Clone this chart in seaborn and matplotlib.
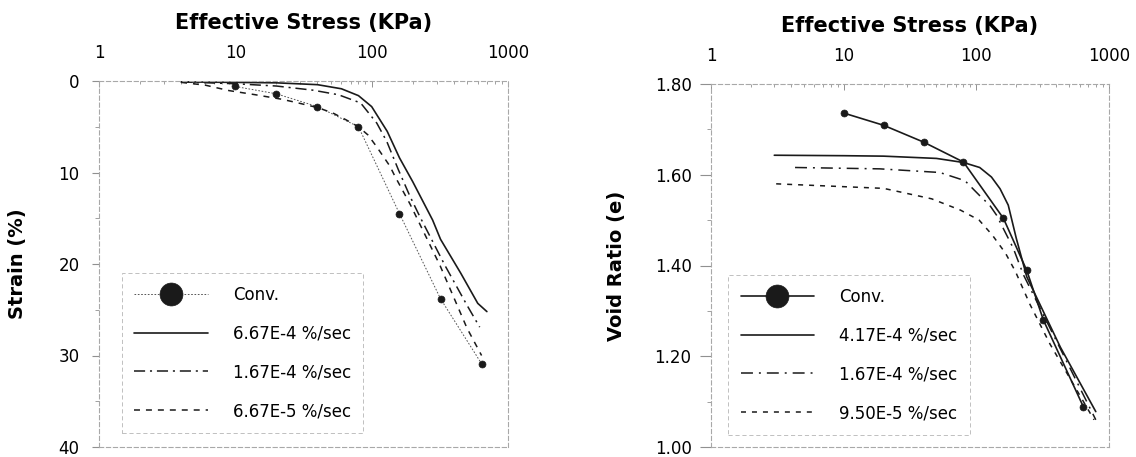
import matplotlib
matplotlib.use("Agg")
import matplotlib.pyplot as plt
import seaborn as sns
import numpy as np
import pandas as pd
from matplotlib.ticker import FixedLocator, FixedFormatter, LogLocator, NullFormatter

# ---------------- data ----------------
stress_ticks = [1, 10, 100, 1000]
stress_tick_labels = ["1", "10", "100", "1000"]

strain_ticks = [0, 10, 20, 30, 40]
strain_tick_labels = ["0", "10", "20", "30", "40"]
void_ticks = [1.0, 1.2, 1.4, 1.6, 1.8]
void_tick_labels = ["1.00", "1.20", "1.40", "1.60", "1.80"]

# left panel: strain (%)
left_conv_x = [10, 20, 40, 80, 160, 320, 640]
left_conv_y = [0.6, 1.4, 2.8, 5.0, 14.5, 23.8, 30.9]
left_fast_x = [4, 10, 20, 40, 60, 80, 100, 130, 160, 200, 280, 320, 450, 600, 700]
left_fast_y = [0.1, 0.15, 0.2, 0.4, 0.85, 1.6, 2.8, 5.5, 8.4, 11.0, 15.2, 17.3, 21.0, 24.3, 25.2]
left_mid_x = [4, 10, 20, 37, 57, 83, 109, 129, 157, 191, 227, 346, 500, 620]
left_mid_y = [0.1, 0.3, 0.55, 1.0, 1.5, 2.4, 4.6, 6.6, 9.7, 12.6, 14.9, 20.2, 24.5, 26.9]
left_slow_x = [4, 6, 9, 14, 22, 28, 40, 52, 65, 80, 94, 109, 136, 148, 192, 318, 500, 640]
left_slow_y = [0.15, 0.45, 1.05, 1.5, 2.0, 2.35, 2.9, 3.5, 4.25, 5.0, 5.9, 7.2, 9.3, 10.4, 13.5, 20.2, 27.0, 30.0]
left_labels = ["Conv.", "6.67E-4 %/sec", "1.67E-4 %/sec", "6.67E-5 %/sec"]

# right panel: void ratio (e)
right_conv_x = [10, 20, 40, 80, 160, 240, 320, 640]
right_conv_y = [1.736, 1.709, 1.672, 1.628, 1.504, 1.389, 1.280, 1.089]
right_fast_x = [3, 10, 20, 50, 80, 106, 130, 151, 174, 200, 240, 430, 795]
right_fast_y = [1.643, 1.642, 1.641, 1.636, 1.627, 1.616, 1.595, 1.569, 1.533, 1.46, 1.375, 1.22, 1.078]
right_mid_x = [4.3, 18.7, 53, 82, 106, 126, 142, 190, 226, 795]
right_mid_y = [1.616, 1.613, 1.605, 1.587, 1.554, 1.533, 1.511, 1.438, 1.38, 1.060]
right_slow_x = [3.1, 20, 46, 76, 105, 132, 166, 197, 253, 359, 771]
right_slow_y = [1.580, 1.570, 1.547, 1.522, 1.50, 1.467, 1.427, 1.387, 1.315, 1.227, 1.06]
right_labels = ["Conv.", "4.17E-4 %/sec", "1.67E-4 %/sec", "9.50E-5 %/sec"]

xlabel_text = "Effective Stress (KPa)"
left_ylabel = "Strain (%)"
right_ylabel = "Void Ratio (e)"

# ---------------- style ----------------
sns.set_theme(style="white")
plt.rcParams["font.family"] = ["DejaVu Sans"]
plt.rcParams["lines.scale_dashes"] = False
plt.rcParams["legend.fancybox"] = False
plt.rcParams["text.color"] = "black"
plt.rcParams["axes.labelcolor"] = "black"

fig = plt.figure(figsize=(11.36, 4.57), dpi=100)
W, H = 1136.0, 457.0
axL = fig.add_axes([99 / W, 1 - 447 / H, 409 / W, 366 / H])
axR = fig.add_axes([711 / W, 1 - 447 / H, 398 / W, 363 / H])

spine_col = "#a8a8a8"
tick_col = "#909090"


def line(ax, x, y, label, ls, lw=1.1, color="k", marker=None, ms=5):
    df = pd.DataFrame({"x": x, "y": y})
    kws = dict(color=color, linewidth=lw, linestyle=ls, label=label)
    if marker:
        kws.update(marker=marker, markersize=ms, markeredgecolor="k",
                   markerfacecolor="k", markeredgewidth=0.5)
    sns.lineplot(data=df, x="x", y="y", ax=ax, sort=False, estimator=None, **kws)


# left panel
line(axL, left_conv_x, left_conv_y, left_labels[0], (0, (1.2, 1.2)), lw=0.7,
     color="#555555", marker="o", ms=5)
line(axL, left_fast_x, left_fast_y, left_labels[1], "-", lw=1.2)
line(axL, left_mid_x, left_mid_y, left_labels[2], (0, (8, 3.5, 1.5, 3.5)), lw=1.1)
line(axL, left_slow_x, left_slow_y, left_labels[3], (0, (4.3, 4.3)), lw=1.1)

# right panel
line(axR, right_conv_x, right_conv_y, right_labels[0], "-", lw=1.2, marker="o", ms=5)
line(axR, right_fast_x, right_fast_y, right_labels[1], "-", lw=1.2)
line(axR, right_mid_x, right_mid_y, right_labels[2], (0, (8.6, 4.3, 1.4, 4.3)), lw=1.1)
line(axR, right_slow_x, right_slow_y, right_labels[3], (0, (3.6, 4.3)), lw=1.1)


def style_axes(ax, yticks, ylabels, ylim, yminor, ylabel, ylabel_x, tick_len, tick_pad):
    ax.set_xscale("log")
    ax.set_xlim(1, 1000)
    ax.set_ylim(*ylim)
    ax.xaxis.tick_top()
    ax.xaxis.set_label_position("top")
    ax.xaxis.set_major_locator(FixedLocator(stress_ticks))
    ax.xaxis.set_major_formatter(FixedFormatter(stress_tick_labels))
    ax.xaxis.set_minor_locator(LogLocator(base=10, subs=np.arange(2, 10)))
    ax.xaxis.set_minor_formatter(NullFormatter())
    ax.tick_params(axis="x", which="major", direction="in", length=4, width=0.7,
                   color=tick_col, labelcolor="black", pad=14, labelsize=12,
                   top=True, bottom=False)
    ax.tick_params(axis="x", which="minor", direction="in", length=2.5, width=0.6,
                   color=tick_col, top=True, bottom=False)
    ax.yaxis.set_major_locator(FixedLocator(yticks))
    ax.yaxis.set_major_formatter(FixedFormatter(ylabels))
    ax.yaxis.set_minor_locator(FixedLocator(yminor))
    ax.tick_params(axis="y", which="major", direction="out", length=tick_len, width=0.8,
                   color=tick_col, labelcolor="black", pad=tick_pad, labelsize=12,
                   left=True)
    ax.tick_params(axis="y", which="minor", direction="out", length=3, width=0.6,
                   color=tick_col, left=True)
    for s in ax.spines.values():
        s.set_visible(True)
        s.set_color(spine_col)
        s.set_linewidth(0.8)
        s.set_linestyle((0, (3, 2)))
    ax.set_xlabel(xlabel_text, fontsize=15, fontweight="bold", color="black")
    ax.xaxis.set_label_coords(0.5, 1.143)
    ax.set_ylabel(ylabel, fontsize=14, fontweight="bold", color="black")
    ax.yaxis.set_label_coords(ylabel_x, 0.5)
    ax.grid(False)


style_axes(axL, strain_ticks, strain_tick_labels, (40, 0), [5, 15, 25, 35],
           left_ylabel, -0.176, 5, 9)
style_axes(axR, void_ticks, void_tick_labels, (1.0, 1.8), [1.1, 1.3, 1.5, 1.7],
           right_ylabel, -0.2136, 8, 6)


def make_legend(ax, anchor):
    leg = ax.legend(loc="upper left", bbox_to_anchor=anchor, borderaxespad=0,
                    fontsize=12, markerscale=3.3, handlelength=4.4,
                    handletextpad=1.5, labelspacing=1.25, borderpad=0.75,
                    frameon=True)
    fr = leg.get_frame()
    fr.set_edgecolor("#b0b0b0")
    fr.set_linewidth(0.7)
    fr.set_linestyle((0, (3, 2)))
    fr.set_facecolor("white")
    for t in leg.get_texts():
        t.set_color("black")
    return leg


make_legend(axL, (0.056, (447 - 273) / 366))
make_legend(axR, ((728 - 711) / 398, (447 - 275) / 363))

fig.savefig("out.png", dpi=100)
